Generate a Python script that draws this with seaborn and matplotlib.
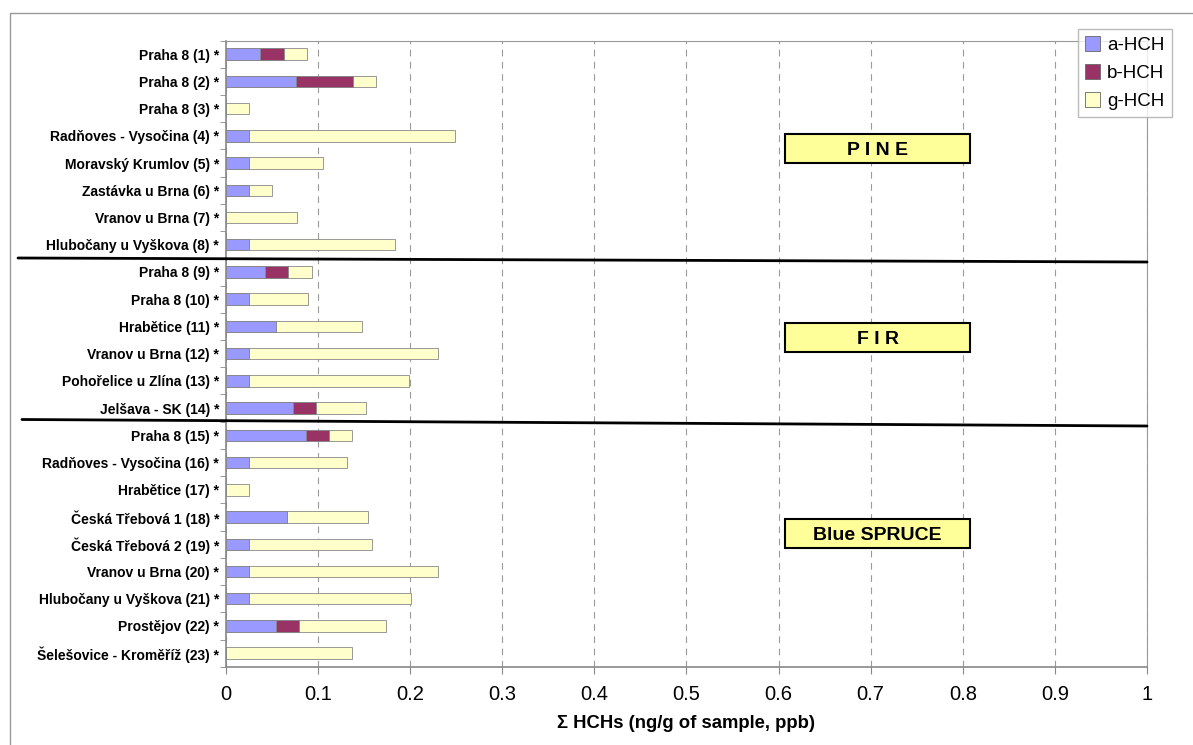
import numpy as np
import pandas as pd
import matplotlib
matplotlib.use('Agg')
import matplotlib.pyplot as plt
import seaborn as sns
from matplotlib.patches import Patch, Rectangle
from matplotlib.lines import Line2D

# sample sites
sites = ['Praha 8 (1) *', 'Praha 8 (2) *', 'Praha 8 (3) *', 'Radňoves - Vysočina (4) *',
         'Moravský Krumlov (5) *', 'Zastávka u Brna (6) *', 'Vranov u Brna (7) *',
         'Hlubočany u Vyškova (8) *', 'Praha 8 (9) *', 'Praha 8 (10) *', 'Hrabětice (11) *',
         'Vranov u Brna (12) *', 'Pohořelice u Zlína (13) *', 'Jelšava - SK (14) *',
         'Praha 8 (15) *', 'Radňoves - Vysočina (16) *', 'Hrabětice (17) *',
         'Česká Třebová 1 (18) *', 'Česká Třebová 2 (19) *', 'Vranov u Brna (20) *',
         'Hlubočany u Vyškova (21) *', 'Prostějov (22) *', 'Šelešovice - Kroměříž (23) *']

a_hch = [0.037, 0.076, 0.0, 0.025, 0.025, 0.025, 0.0, 0.025, 0.042, 0.025, 0.054, 0.025,
         0.025, 0.073, 0.087, 0.025, 0.0, 0.066, 0.025, 0.025, 0.025, 0.054, 0.0]
b_hch = [0.026, 0.062, 0.0, 0.0, 0.0, 0.0, 0.0, 0.0, 0.025, 0.0, 0.0, 0.0,
         0.0, 0.025, 0.025, 0.0, 0.0, 0.0, 0.0, 0.0, 0.0, 0.025, 0.0]
g_hch = [0.025, 0.025, 0.025, 0.224, 0.080, 0.025, 0.077, 0.159, 0.026, 0.064, 0.094, 0.205,
         0.174, 0.054, 0.025, 0.106, 0.025, 0.088, 0.134, 0.205, 0.176, 0.095, 0.137]

series_names = ['a-HCH', 'b-HCH', 'g-HCH']
colors = ['#9999FF', '#993366', '#FFFFCC']

groups = ['P I N E', 'F I R', 'Blue SPRUCE']
group_pos = [3.46, 10.4, 17.6]

df = pd.DataFrame({'site': sites, 'a': a_hch, 'b': b_hch, 'g': g_hch})
df['ab'] = df['a'] + df['b']
df['abg'] = df['ab'] + df['g']

sns.set_style('white')
plt.rcParams['font.family'] = ['Liberation Sans', 'DejaVu Sans']
plt.rcParams['text.color'] = 'black'
plt.rcParams['axes.labelcolor'] = 'black'
plt.rcParams['xtick.labelcolor'] = 'black'
plt.rcParams['ytick.labelcolor'] = 'black'

fig = plt.figure(figsize=(11.93, 7.45), dpi=100)
ax = fig.add_axes([0.1894, 0.105, 0.772, 0.8406])

# stacked bars: draw totals first, then overlay the lower parts
for col, c in zip(['abg', 'ab', 'a'], [colors[2], colors[1], colors[0]]):
    sns.barplot(data=df, x=col, y='site', color=c, width=0.42, orient='h',
                edgecolor='#888888', linewidth=0.6, saturation=1, ax=ax, zorder=3)

ax.set_xlim(0, 1)
ax.set_ylim(22.5, -0.5)
ax.set_xticks(np.arange(0, 1.01, 0.1))
ax.set_xticklabels(['0', '0.1', '0.2', '0.3', '0.4', '0.5', '0.6', '0.7', '0.8', '0.9', '1'],
                   fontsize=14.5)
ax.xaxis.grid(True, color='#9a9a9a', linestyle=(0, (6, 5)), linewidth=0.8)
ax.set_axisbelow(True)
ax.set_ylabel('')
ax.set_xlabel('Σ HCHs (ng/g of sample, ppb)', fontsize=13.3, fontweight='bold', labelpad=8)
for lab in ax.get_yticklabels():
    lab.set_fontweight('bold')
    lab.set_fontsize(10)
ax.tick_params(axis='y', length=0, pad=5)
ax.set_yticks(np.arange(-0.5, 23, 1), minor=True)
ax.tick_params(axis='y', which='minor', length=4, color='#888888', direction='out', left=True)
ax.tick_params(axis='x', length=5, color='#888888', direction='out', bottom=True, pad=8)

for s in ['left', 'bottom']:
    ax.spines[s].set_color('#888888')
    ax.spines[s].set_linewidth(1.2)
for s in ['top', 'right']:
    ax.spines[s].set_color('#999999')
    ax.spines[s].set_linewidth(0.8)

# group labels
for name, yc in zip(groups, group_pos):
    ax.add_patch(Rectangle((0.607, yc - 0.54), 0.201, 1.08, facecolor='#FFFF99',
                           edgecolor='black', linewidth=1.5, zorder=5))
    ax.text(0.7075, yc + 0.07, name, ha='center', va='center', fontsize=14,
            fontweight='bold', color='black', zorder=6)

# separator lines between tree species
fig.add_artist(Line2D([18 / 1193, 1147 / 1193], [1 - 258 / 745, 1 - 262 / 745],
                      color='black', linewidth=2))
fig.add_artist(Line2D([22 / 1193, 1147 / 1193], [1 - 419.5 / 745, 1 - 426 / 745],
                      color='black', linewidth=2))

handles = [Patch(facecolor=c, edgecolor='#666666', linewidth=0.6) for c in colors]
fig.legend(handles, series_names, loc='upper left', bbox_to_anchor=(0.9035, 0.9615),
           frameon=True, fancybox=False, edgecolor='#aaaaaa', fontsize=13.5,
           handlelength=0.8, handleheight=0.8, handletextpad=0.35, labelspacing=0.55,
           borderpad=0.4, borderaxespad=0)

# outer chart frame (left and top edges visible)
fig.add_artist(Line2D([9.5 / 1193, 9.5 / 1193, 1.0], [0.0, 1 - 12.7 / 745, 1 - 12.7 / 745],
                      color='#999999', linewidth=1))

fig.savefig('out.png', dpi=100)
